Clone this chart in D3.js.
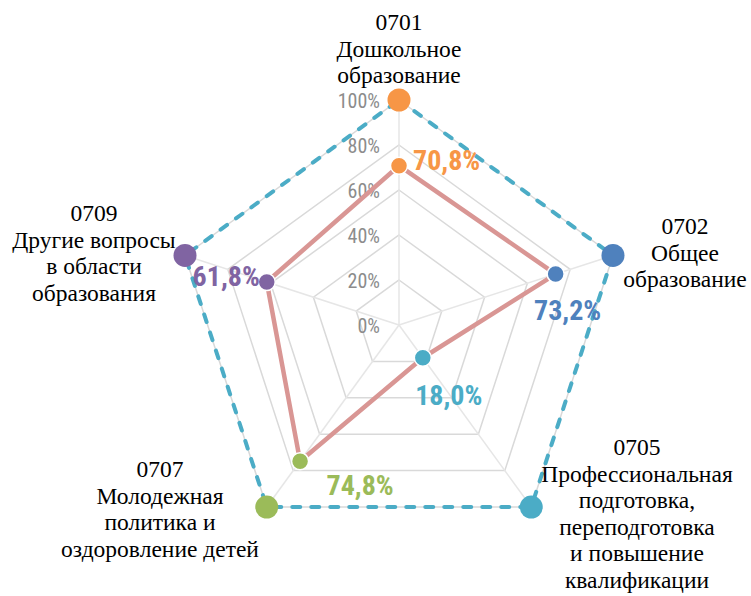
<!DOCTYPE html>
<html>
<head>
<meta charset="utf-8">
<script src="https://cdn.jsdelivr.net/npm/d3@7"></script>
<style>
  html, body { margin: 0; padding: 0; background: #fff; }
  svg { display: block; }
</style>
</head>
<body>
<svg id="chart" width="751" height="596"></svg>
<script>
// ---- data ----
const codes = ["0701", "0702", "0705", "0707", "0709"];
const categoryLines = [
  ["Дошкольное", "образование"],
  ["Общее", "образование"],
  ["Профессиональная", "подготовка,", "переподготовка", "и повышение", "квалификации"],
  ["Молодежная", "политика и", "оздоровление детей"],
  ["Другие вопросы", "в области", "образования"]
];
const values = [70.8, 73.2, 18.0, 74.8, 61.8];
const valueLabels = ["70,8%", "73,2%", "18,0%", "74,8%", "61,8%"];
const maxValues = [100, 100, 100, 100, 100];
const tickValues = [0, 20, 40, 60, 80, 100];
const tickLabels = ["0%", "20%", "40%", "60%", "80%", "100%"];
const colors = ["#f79646", "#4f81bd", "#4bacc6", "#9bbb59", "#8064a2"];

// ---- layout ----
const cx = 399, cy = 325, R = 225;
const svg = d3.select("#chart");
const r = d3.scaleLinear().domain([0, 100]).range([0, R]);
const ang = (i) => i * 2 * Math.PI / codes.length;
const pt = (i, v) => [cx + r(v) * Math.sin(ang(i)), cy - r(v) * Math.cos(ang(i))];

const g = svg.append("g");

// grid rings
tickValues.forEach(t => {
  if (t === 0) return;
  g.append("polygon")
    .attr("points", codes.map((c, i) => pt(i, t).join(",")).join(" "))
    .attr("fill", "none")
    .attr("stroke", "#d9d9d9")
    .attr("stroke-width", 1.5);
});
// spokes
codes.forEach((c, i) => {
  const p = pt(i, 100);
  g.append("line")
    .attr("x1", cx).attr("y1", cy).attr("x2", p[0]).attr("y2", p[1])
    .attr("stroke", "#e6e6e6").attr("stroke-width", 1.5);
});

// tick labels
g.selectAll(".tick").data(tickValues).enter().append("text")
  .attr("x", cx - 19)
  .attr("y", d => cy - r(d) + 1)
  .attr("text-anchor", "end")
  .attr("dominant-baseline", "central")
  .attr("font-family", "Roboto Condensed")
  .attr("font-size", 20)
  .attr("fill", "#8c8c8c")
  .text((d, i) => tickLabels[i]);

const line = d3.line().curve(d3.curveLinearClosed);

// 100% dashed series
g.append("path")
  .attr("d", line(maxValues.map((v, i) => pt(i, v))))
  .attr("fill", "none")
  .attr("stroke", "#4bacc6")
  .attr("stroke-width", 4)
  .attr("stroke-dasharray", "8,11")
  .attr("stroke-linecap", "round");
g.selectAll(".outer").data(maxValues).enter().append("circle")
  .attr("cx", (d, i) => pt(i, d)[0])
  .attr("cy", (d, i) => pt(i, d)[1])
  .attr("r", 11.5)
  .attr("fill", (d, i) => colors[i]);

// value series
g.append("path")
  .attr("d", line(values.map((v, i) => pt(i, v))))
  .attr("fill", "none")
  .attr("stroke", "#d99694")
  .attr("stroke-width", 4.5)
  .attr("stroke-linejoin", "round");
g.selectAll(".inner").data(values).enter().append("circle")
  .attr("cx", (d, i) => pt(i, d)[0])
  .attr("cy", (d, i) => pt(i, d)[1])
  .attr("r", 8.5)
  .attr("fill", (d, i) => colors[i])
  .attr("stroke", "#fff")
  .attr("stroke-width", 1.5);

// value labels (offsets relative to point)
const labelOffsets = [[14, -5, "start"], [12, 36, "middle"], [26, 38, "middle"], [60, 24, "middle"], [-7, -6, "end"]];
g.selectAll(".vlabel").data(values).enter().append("text")
  .attr("x", (d, i) => pt(i, d)[0] + labelOffsets[i][0])
  .attr("y", (d, i) => pt(i, d)[1] + labelOffsets[i][1])
  .attr("text-anchor", (d, i) => labelOffsets[i][2])
  .attr("dominant-baseline", "central")
  .attr("font-family", "Roboto Condensed")
  .attr("font-weight", "bold")
  .attr("font-size", 28)
  .attr("fill", (d, i) => colors[i])
  .text((d, i) => valueLabels[i]);

// category labels (one text element per line)
const catPos = [[399, 22], [685, 226], [637, 447], [160, 469], [94, 213]];
const lineH = 26.6;
codes.forEach((c, i) => {
  const lines = [c].concat(categoryLines[i]);
  lines.forEach((l, k) => {
    g.append("text")
      .attr("x", catPos[i][0])
      .attr("y", catPos[i][1] + k * lineH)
      .attr("text-anchor", "middle")
      .attr("dominant-baseline", "central")
      .attr("font-family", "Liberation Serif")
      .attr("font-size", 23.5)
      .attr("fill", "#000")
      .text(l);
  });
});
</script>
</body>
</html>
